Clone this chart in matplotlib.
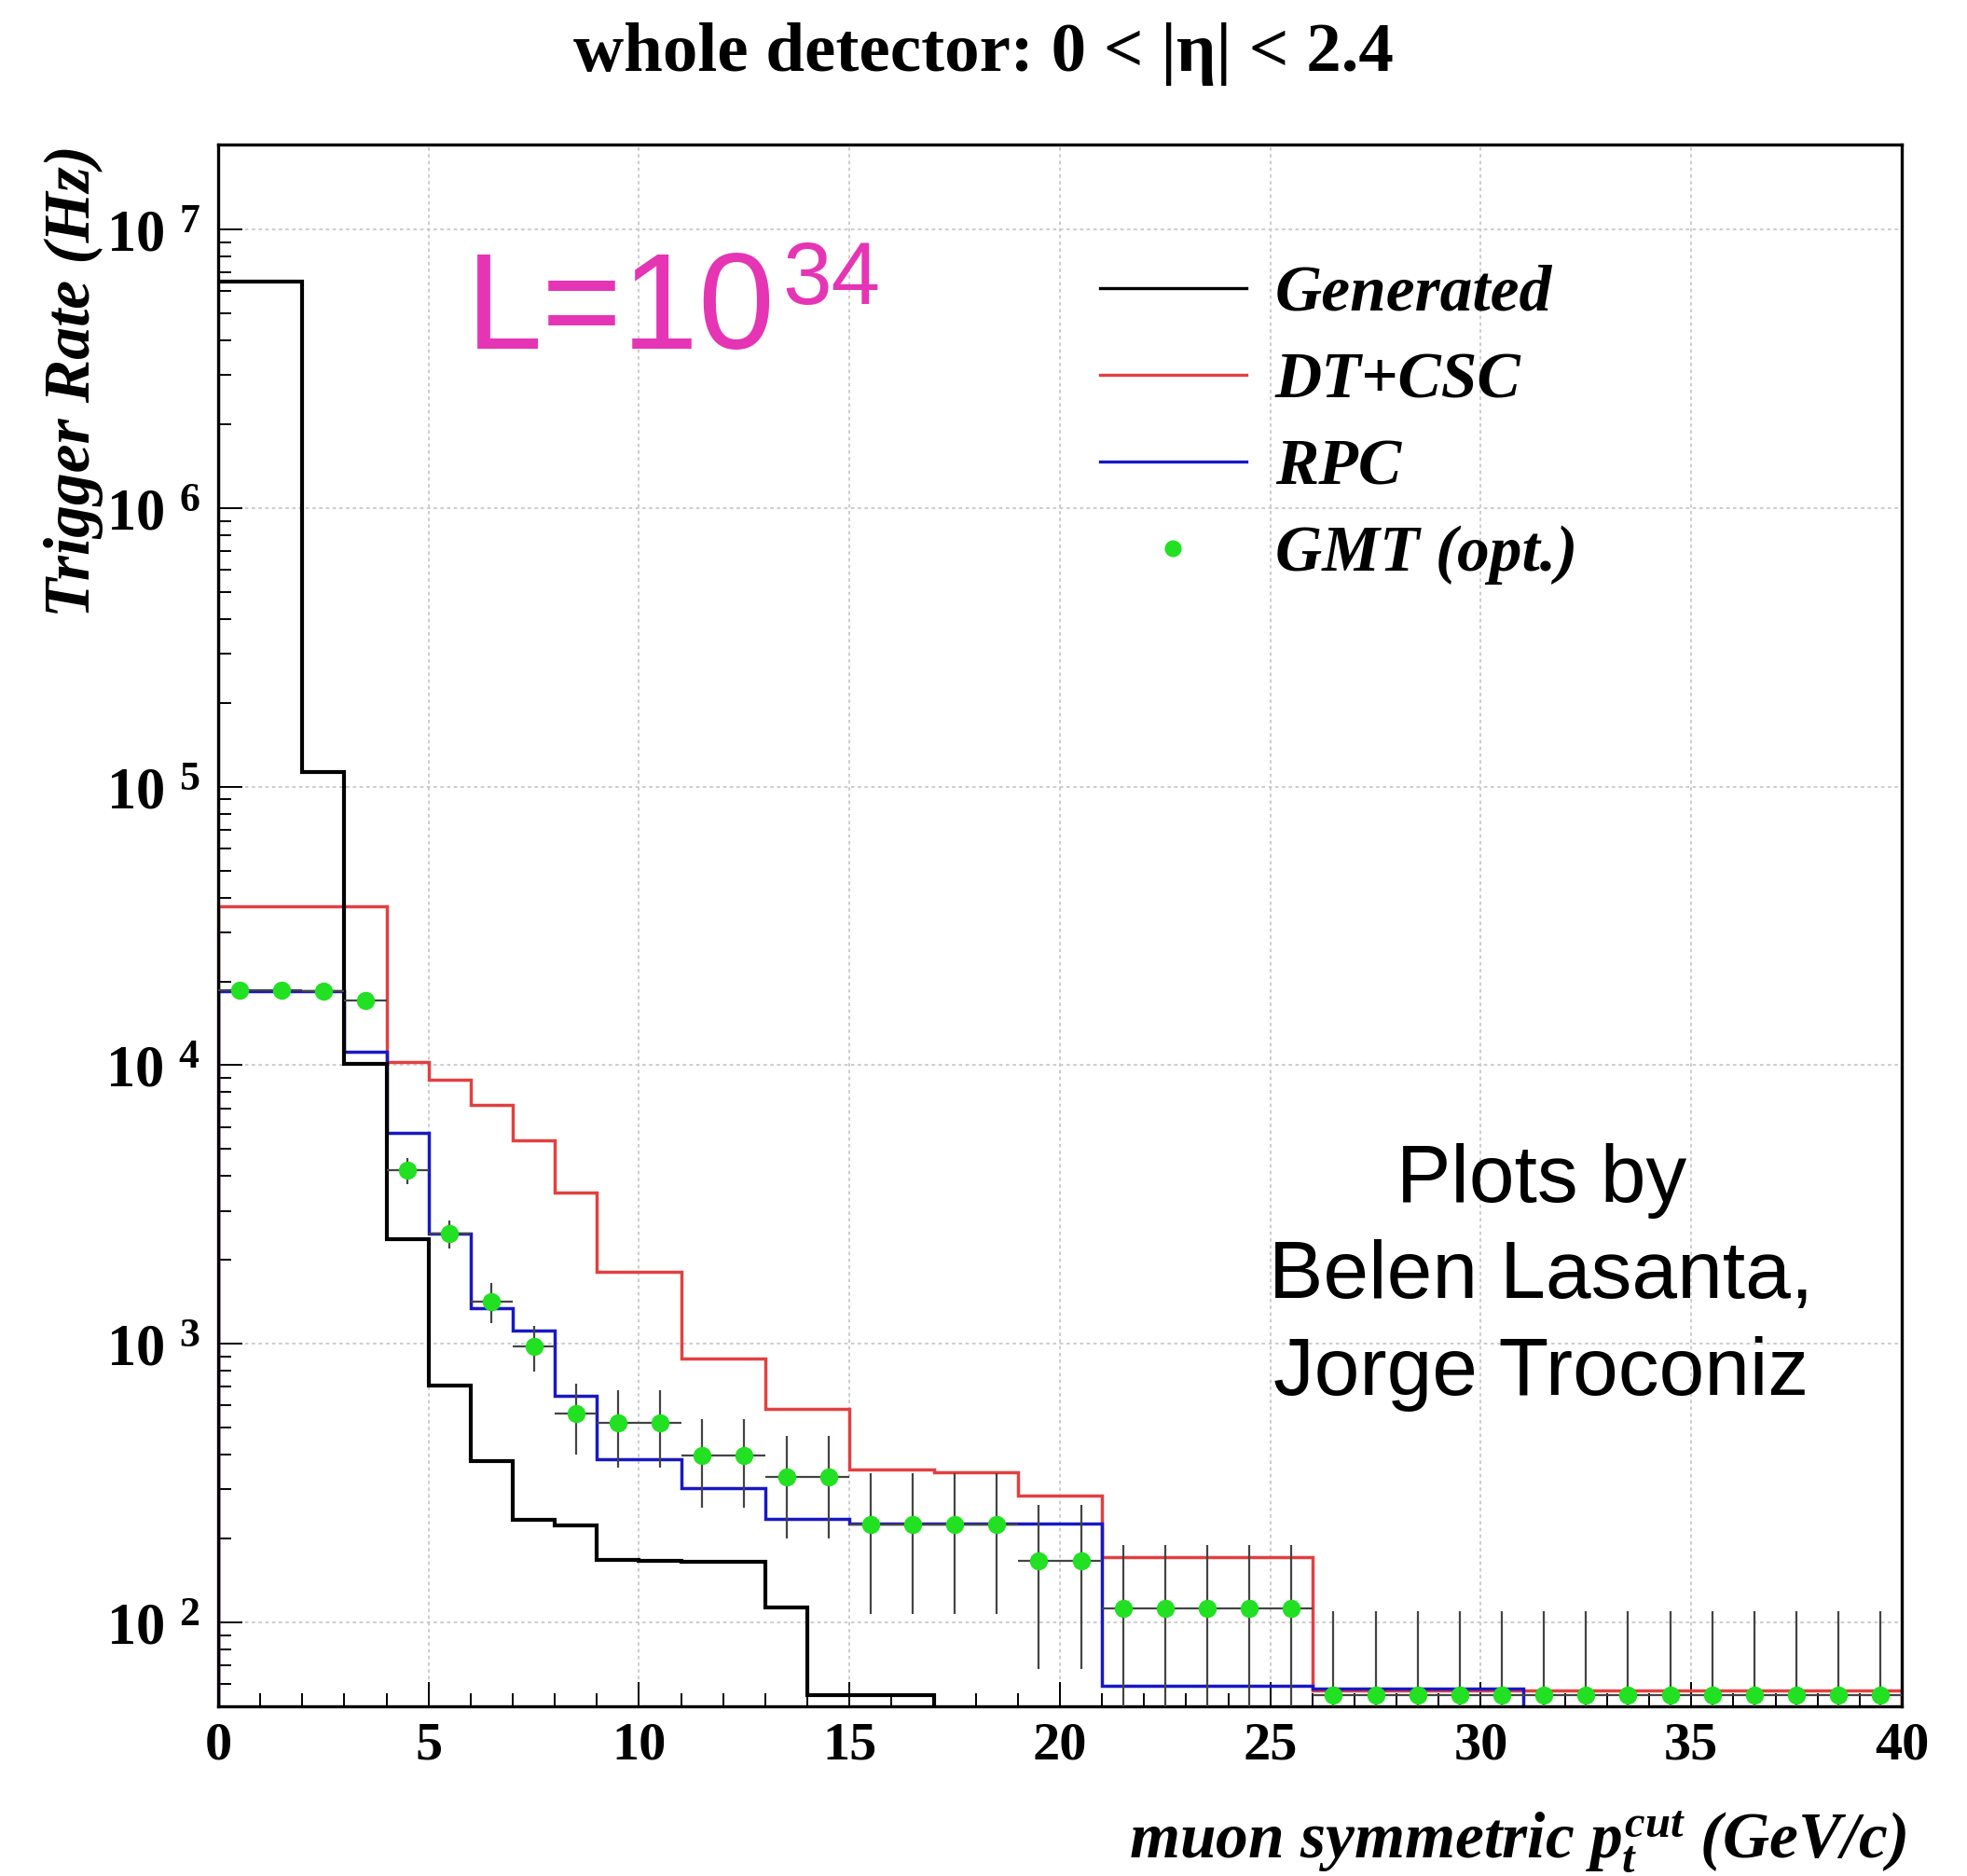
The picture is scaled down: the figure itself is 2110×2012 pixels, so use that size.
import numpy as np
import matplotlib
matplotlib.use("Agg")
import matplotlib.pyplot as plt
from matplotlib.lines import Line2D
from matplotlib.ticker import FixedLocator, MultipleLocator, LogLocator, NullFormatter
from matplotlib.font_manager import FontProperties

# ---------------- data ----------------
bin_edges = list(range(0, 41))  # GeV/c, 1 GeV bins

generated = [6.5e6, 6.5e6, 1.13e5, 1.01e4, 2.37e3, 710, 378, 234, 222, 168,
             166, 165, 165, 113, 55, 55, 55, 20, 20, 20,
             20, 20, 20, 20, 20, 20, 20, 20, 20, 20,
             20, 20, 20, 20, 20, 20, 20, 20, 20, 20]

dt_csc = [3.73e4, 3.73e4, 3.73e4, 3.73e4, 1.03e4, 8.9e3, 7.2e3, 5.37e3, 3.5e3, 1.82e3,
          1.82e3, 883, 883, 583, 583, 355, 355, 347, 347, 285,
          285, 171, 171, 171, 171, 171, 57, 57, 57, 57,
          57, 57, 57, 57, 57, 57, 57, 57, 57, 57]

rpc = [1.85e4, 1.85e4, 1.85e4, 1.12e4, 5.7e3, 2.49e3, 1.34e3, 1.12e3, 653, 385,
       385, 303, 303, 236, 236, 227, 227, 227, 227, 227,
       227, 59, 59, 59, 59, 59, 58, 58, 58, 58,
       58, 30, 30, 30, 30, 30, 30, 30, 30, 30]

gmt = [1.86e4, 1.86e4, 1.85e4, 1.71e4, 4.2e3, 2.49e3, 1.42e3, 977, 560, 520,
       520, 398, 398, 333, 333, 225, 225, 225, 225, 166,
       166, 112, 112, 112, 112, 112, 55, 55, 55, 55,
       55, 55, 55, 55, 55, 55, 55, 55, 55, 55]

gmt_err = [700, 700, 700, 700, 450, 290, 230, 185, 160, 160,
           160, 140, 140, 133, 133, 118, 118, 118, 118, 98,
           98, 78, 78, 78, 78, 78, 55, 55, 55, 55,
           55, 55, 55, 55, 55, 55, 55, 55, 55, 55]

x_ticks = [0, 5, 10, 15, 20, 25, 30, 35, 40]
x_tick_labels = ["0", "5", "10", "15", "20", "25", "30", "35", "40"]
y_ticks = [1e2, 1e3, 1e4, 1e5, 1e6, 1e7]
y_tick_labels = [r"$\mathbf{10^{\;\,2}}$", r"$\mathbf{10^{\;\,3}}$", r"$\mathbf{10^{\;\,4}}$",
                 r"$\mathbf{10^{\;\,5}}$", r"$\mathbf{10^{\;\,6}}$", r"$\mathbf{10^{\;\,7}}$"]

legend_labels = ["Generated", "DT+CSC", "RPC", "GMT (opt.)"]

# ---------------- style ----------------
plt.rcParams["mathtext.fontset"] = "custom"
plt.rcParams["mathtext.rm"] = "Liberation Serif:bold"
plt.rcParams["mathtext.it"] = "Liberation Serif:italic:bold"
plt.rcParams["mathtext.bf"] = "Liberation Serif:bold"
plt.rcParams["mathtext.sf"] = "Liberation Sans"

C_BLACK = "black"
C_RED = "#e24040"
C_BLUE = "#1818c4"
C_GREEN = "#22e022"
C_MAGENTA = "#e535b5"

serif_bold = dict(family="Liberation Serif", weight="bold")
serif_bi = dict(family="Liberation Serif", weight="bold", style="italic")

fig = plt.figure(figsize=(21.10, 20.12), dpi=100)
ax = fig.add_axes([0.1109, 0.0905, 0.8559, 0.8325])

ax.set_yscale("log")
ax.set_xlim(0, 40)
ax.set_ylim(50, 2.02e7)

edges = np.array(bin_edges, dtype=float)
centers = 0.5 * (edges[:-1] + edges[1:])
half_w = 0.5 * np.diff(edges)

ax.stairs(dt_csc, edges, baseline=1, color=C_RED, lw=2.5, zorder=2)
ax.stairs(rpc, edges, baseline=1, color=C_BLUE, lw=2.5, zorder=2.5)
ax.stairs(generated, edges, baseline=1, color=C_BLACK, lw=3.0, zorder=3)

g = np.array(gmt, dtype=float)
e = np.array(gmt_err, dtype=float)
lo = np.minimum(e, 0.98 * g)
ax.errorbar(centers, g, yerr=[lo, e], xerr=half_w, fmt="o", color=C_GREEN,
            ms=13, mec=C_GREEN, ecolor="#444444", elinewidth=1.6, capsize=0, zorder=4)

# axes / ticks
ax.xaxis.set_major_locator(FixedLocator(x_ticks))
ax.set_xticklabels(x_tick_labels, fontsize=42, **serif_bold)
ax.xaxis.set_minor_locator(MultipleLocator(1))
ax.yaxis.set_major_locator(FixedLocator(y_ticks))
ax.set_yticklabels(y_tick_labels, fontsize=45)
ax.yaxis.set_minor_locator(LogLocator(base=10, subs=np.arange(2, 10)))
ax.yaxis.set_minor_formatter(NullFormatter())

ax.tick_params(axis="both", which="both", direction="in", top=False, right=False,
               color="black", width=1.4)
ax.tick_params(axis="both", which="major", length=19)
ax.tick_params(axis="both", which="minor", length=10)
ax.tick_params(axis="x", which="major", pad=12)
ax.tick_params(axis="y", which="major", pad=14)

ax.grid(which="major", color="#c8c8c8", linestyle=(0, (2, 2)), lw=1.3, zorder=0)
for s in ax.spines.values():
    s.set_linewidth(2.4)
    s.set_color("black")

# labels
ax.set_xlabel(r"muon symmetric $p_{t}^{cut}$ (GeV/c)", fontsize=50, loc="right", **serif_bi)
ax.xaxis.set_label_coords(1.003, -0.066)
ax.set_ylabel("Trigger Rate (Hz)", fontsize=50, loc="top", **serif_bi)
ax.yaxis.set_label_coords(-0.068, 1.0)

fig.text(0.5, 0.962, "whole detector: 0 < |η| < 2.4", ha="center", va="baseline",
         fontsize=54, **serif_bold)

# legend
handles = [Line2D([], [], color=C_BLACK, lw=2.4),
           Line2D([], [], color=C_RED, lw=2.4),
           Line2D([], [], color=C_BLUE, lw=2.4),
           Line2D([], [], color=C_GREEN, marker="o", ls="none", ms=12)]
ax.legend(handles, legend_labels, loc="upper left", bbox_to_anchor=(0.524, 0.923),
          frameon=False, prop=FontProperties(size=50, **serif_bi),
          handlelength=2.25, handletextpad=0.45, labelspacing=0.42,
          borderpad=0, borderaxespad=0)

# annotations
t1 = ax.text(0.147, 0.869, "L=10", transform=ax.transAxes, fontsize=106,
             family="Liberation Sans", color=C_MAGENTA, ha="left", va="baseline")
ax.annotate("34", xy=(1.0, 1.0), xycoords=t1, xytext=(6, 8), textcoords="offset points",
            fontsize=68, family="Liberation Sans", color=C_MAGENTA, ha="left", va="top")

ax.text(0.786, 0.2746, "Plots by\nBelen Lasanta,\nJorge Troconiz", transform=ax.transAxes,
        ha="center", va="center", multialignment="center", fontsize=63,
        family="Liberation Sans", color="black", linespacing=1.36)

fig.savefig("out.png", dpi=100, facecolor="white")
